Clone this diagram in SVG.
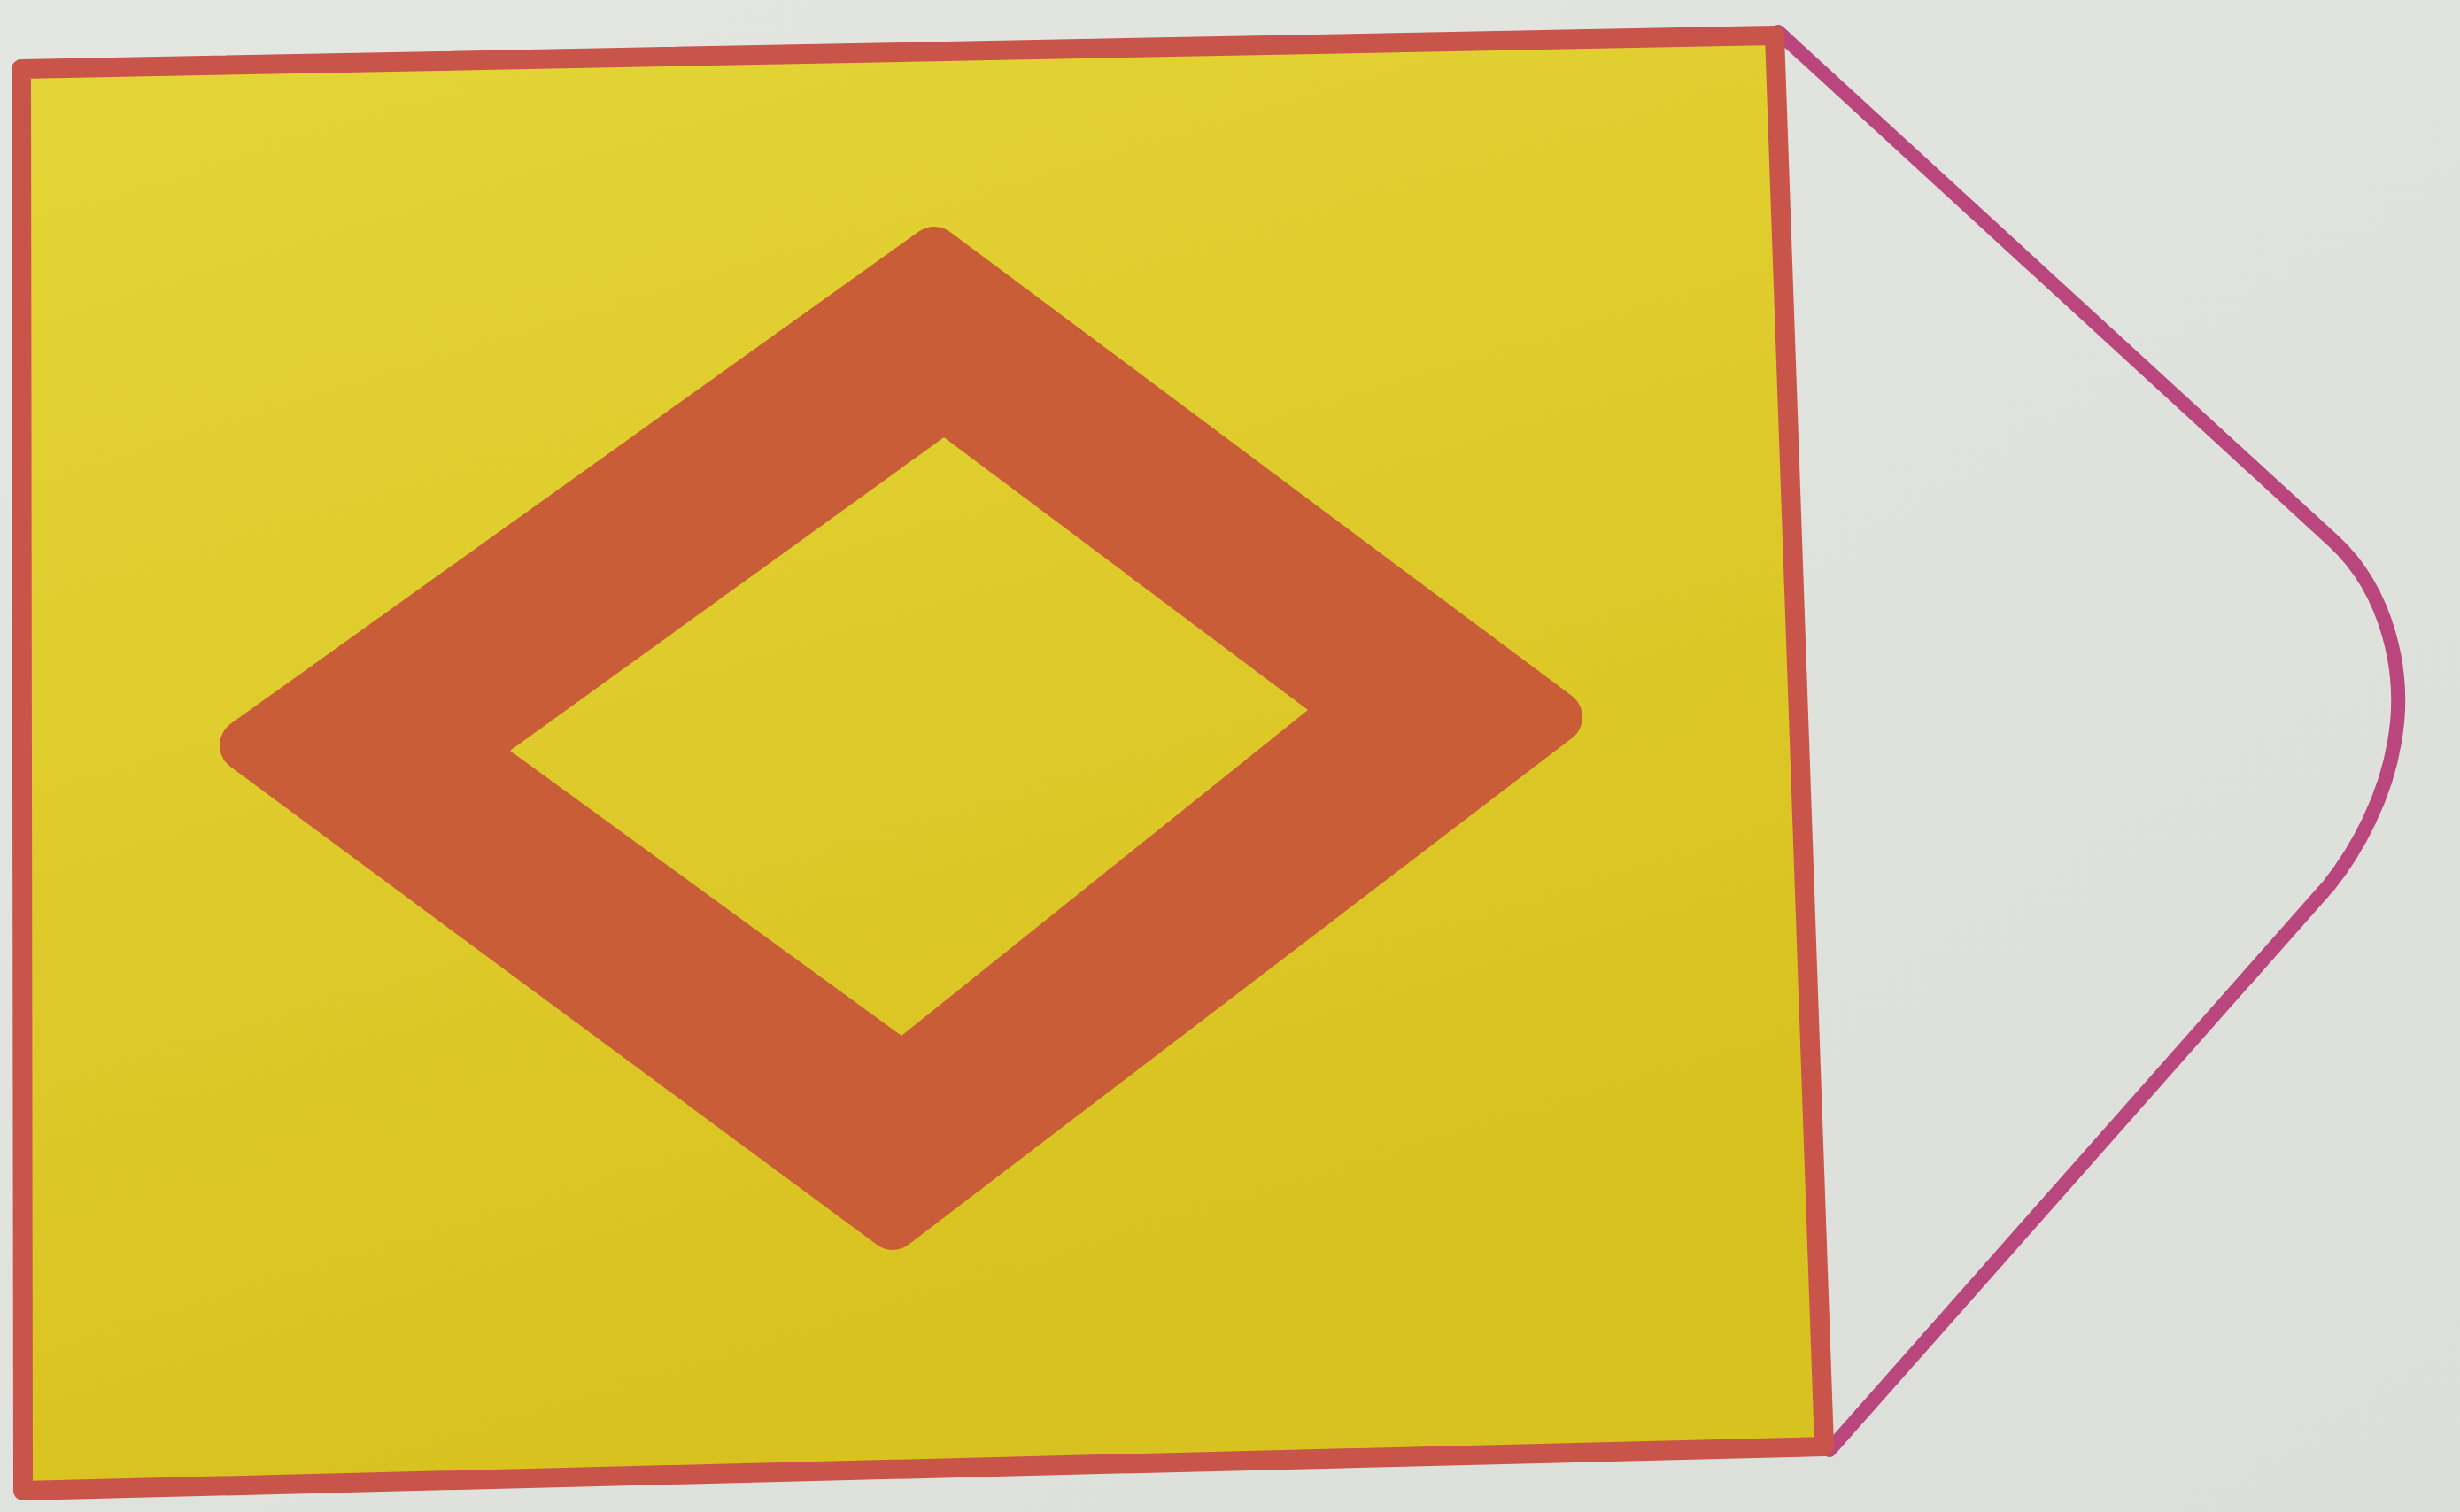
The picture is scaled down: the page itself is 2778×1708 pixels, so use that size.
<svg xmlns="http://www.w3.org/2000/svg" width="2778" height="1708" viewBox="0 0 2778 1708">
<defs>
<linearGradient id="bg" x1="0" y1="0" x2="1" y2="1">
<stop offset="0" stop-color="#e4e6e1"/>
<stop offset="1" stop-color="#dcdeda"/>
</linearGradient>
<linearGradient id="yel" gradientUnits="userSpaceOnUse" x1="0" y1="40" x2="500" y2="1690">
<stop offset="0" stop-color="#e5d538"/>
<stop offset="1" stop-color="#d8c220"/>
</linearGradient>
</defs>
<style>
.flag{fill:url(#yel);stroke:#c9544a;stroke-width:22;stroke-linejoin:round}
.tip{fill:none;stroke:#b9467c;stroke-width:16;stroke-linejoin:round;stroke-linecap:round}
.ring{fill:#c95d37;stroke:#c95d37;stroke-width:60;stroke-linejoin:round}
.hole{fill:url(#yel)}
</style>
<rect width="2778" height="1708" fill="url(#bg)"/>
<g id="tip">
<path class="tip" d="M2008,36 L2636,612 C2696,668 2718,760 2704,838 C2694,900 2662,960 2630,1000 L2066,1638"/>
</g>
<g id="flag">
<path class="flag" d="M24,78 L2004,40 L2060,1634 L26,1684 Z"/>
</g>
<g id="diamond">
<path class="ring" d="M1055,286 L1757,810 L1008,1382 L278,842 Z"/>
<path class="hole" d="M1066,494 L1477,802 L1018,1170 L576,848 Z"/>
</g>
</svg>
